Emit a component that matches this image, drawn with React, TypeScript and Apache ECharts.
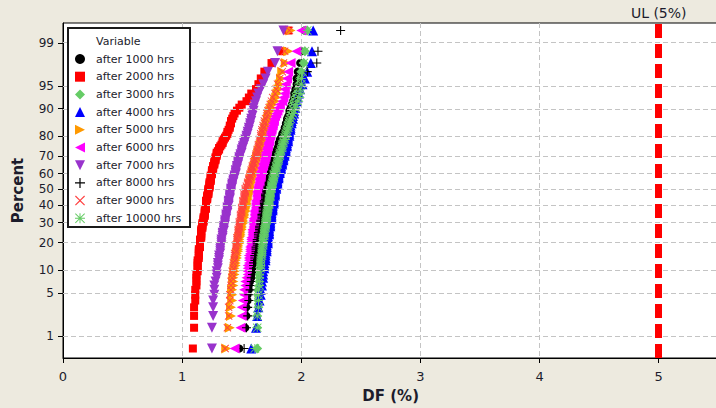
import { useEffect, useRef } from 'react';
import * as echarts from 'echarts';

// ---------- data (sorted DF values, 120 per series) ----------
const seriesNames = [
  'after 1000 hrs', 'after 2000 hrs', 'after 3000 hrs', 'after 4000 hrs', 'after 5000 hrs',
  'after 6000 hrs', 'after 7000 hrs', 'after 8000 hrs', 'after 9000 hrs', 'after 10000 hrs',
];

const after1000 = [
  1.48,1.53,1.54,1.54,1.55,1.55,1.56,1.56,1.57,1.58,
  1.58,1.59,1.59,1.59,1.60,1.60,1.60,1.60,1.61,1.61,
  1.61,1.62,1.62,1.62,1.62,1.63,1.63,1.63,1.63,1.64,
  1.64,1.64,1.64,1.65,1.65,1.65,1.65,1.66,1.66,1.66,
  1.66,1.66,1.67,1.67,1.67,1.67,1.68,1.68,1.68,1.68,
  1.68,1.69,1.69,1.69,1.69,1.69,1.70,1.70,1.70,1.70,
  1.70,1.71,1.71,1.71,1.72,1.72,1.72,1.73,1.73,1.73,
  1.73,1.74,1.74,1.74,1.74,1.75,1.75,1.75,1.76,1.76,
  1.76,1.77,1.77,1.78,1.78,1.79,1.79,1.79,1.80,1.80,
  1.81,1.81,1.81,1.82,1.82,1.83,1.84,1.84,1.85,1.86,
  1.86,1.87,1.87,1.88,1.88,1.89,1.90,1.90,1.91,1.92,
  1.93,1.94,1.94,1.95,1.96,1.96,1.97,1.99,2.00,2.03,
];
const after2000 = [
  1.09,1.10,1.10,1.10,1.11,1.11,1.11,1.12,1.12,1.12,
  1.12,1.13,1.13,1.13,1.13,1.13,1.14,1.14,1.14,1.14,
  1.14,1.15,1.15,1.15,1.15,1.15,1.16,1.16,1.16,1.16,
  1.16,1.16,1.17,1.17,1.17,1.17,1.18,1.18,1.18,1.18,
  1.19,1.19,1.19,1.19,1.19,1.20,1.20,1.20,1.20,1.20,
  1.20,1.20,1.21,1.21,1.21,1.21,1.22,1.22,1.22,1.22,
  1.22,1.23,1.23,1.23,1.23,1.23,1.24,1.24,1.24,1.24,
  1.24,1.25,1.25,1.25,1.25,1.26,1.26,1.26,1.27,1.27,
  1.27,1.28,1.28,1.28,1.29,1.29,1.29,1.30,1.31,1.31,
  1.32,1.33,1.34,1.34,1.35,1.36,1.37,1.38,1.38,1.39,
  1.40,1.40,1.41,1.41,1.42,1.43,1.44,1.46,1.48,1.50,
  1.54,1.56,1.58,1.62,1.64,1.66,1.69,1.75,1.84,1.89,
];
const after3000 = [
  1.63,1.63,1.63,1.64,1.64,1.64,1.64,1.65,1.65,1.65,
  1.65,1.66,1.66,1.66,1.66,1.66,1.67,1.67,1.67,1.67,
  1.67,1.68,1.68,1.68,1.68,1.68,1.68,1.69,1.69,1.69,
  1.69,1.69,1.70,1.70,1.70,1.70,1.70,1.71,1.71,1.71,
  1.71,1.71,1.72,1.72,1.72,1.72,1.72,1.73,1.73,1.73,
  1.73,1.73,1.73,1.74,1.74,1.74,1.74,1.74,1.75,1.75,
  1.75,1.75,1.76,1.76,1.76,1.76,1.77,1.77,1.77,1.77,
  1.78,1.78,1.78,1.79,1.79,1.79,1.80,1.80,1.80,1.81,
  1.81,1.81,1.82,1.82,1.82,1.83,1.83,1.83,1.84,1.84,
  1.84,1.85,1.85,1.85,1.86,1.86,1.87,1.87,1.87,1.88,
  1.88,1.89,1.89,1.90,1.90,1.91,1.91,1.92,1.93,1.93,
  1.94,1.95,1.96,1.97,1.98,1.99,2.00,2.02,2.03,2.05,
];
const after4000 = [
  1.58,1.62,1.63,1.64,1.65,1.66,1.66,1.67,1.67,1.68,
  1.68,1.68,1.69,1.69,1.69,1.70,1.70,1.70,1.70,1.71,
  1.71,1.71,1.71,1.72,1.72,1.72,1.72,1.72,1.73,1.73,
  1.73,1.73,1.73,1.74,1.74,1.74,1.74,1.74,1.75,1.75,
  1.75,1.75,1.75,1.75,1.76,1.76,1.76,1.76,1.76,1.77,
  1.77,1.77,1.77,1.77,1.77,1.78,1.78,1.78,1.78,1.78,
  1.79,1.79,1.79,1.79,1.80,1.80,1.80,1.80,1.81,1.81,
  1.81,1.81,1.82,1.82,1.82,1.83,1.83,1.83,1.84,1.84,
  1.84,1.85,1.85,1.85,1.86,1.86,1.86,1.87,1.87,1.87,
  1.88,1.88,1.88,1.89,1.89,1.89,1.90,1.90,1.90,1.91,
  1.91,1.91,1.92,1.92,1.93,1.93,1.94,1.94,1.95,1.95,
  1.96,1.97,1.98,1.99,2.01,2.03,2.05,2.08,2.09,2.10,
];
const after5000 = [
  1.37,1.40,1.41,1.41,1.42,1.42,1.42,1.43,1.43,1.43,
  1.44,1.44,1.44,1.45,1.45,1.45,1.46,1.46,1.46,1.47,
  1.47,1.47,1.47,1.48,1.48,1.48,1.48,1.49,1.49,1.49,
  1.49,1.50,1.50,1.50,1.50,1.51,1.51,1.51,1.51,1.52,
  1.52,1.52,1.52,1.53,1.53,1.53,1.53,1.54,1.54,1.54,
  1.54,1.54,1.55,1.55,1.55,1.55,1.56,1.56,1.56,1.56,
  1.56,1.57,1.57,1.57,1.57,1.58,1.58,1.58,1.58,1.59,
  1.59,1.59,1.60,1.60,1.60,1.61,1.61,1.61,1.62,1.62,
  1.62,1.62,1.63,1.63,1.64,1.64,1.64,1.65,1.65,1.66,
  1.66,1.66,1.67,1.67,1.68,1.68,1.69,1.69,1.69,1.70,
  1.70,1.71,1.71,1.72,1.72,1.73,1.73,1.74,1.75,1.76,
  1.78,1.79,1.80,1.81,1.82,1.83,1.84,1.87,1.89,1.91,
];
const after6000 = [
  1.44,1.49,1.50,1.50,1.51,1.52,1.52,1.53,1.53,1.54,
  1.55,1.55,1.55,1.55,1.56,1.56,1.56,1.56,1.57,1.57,
  1.57,1.57,1.58,1.58,1.58,1.58,1.58,1.59,1.59,1.59,
  1.59,1.59,1.60,1.60,1.60,1.60,1.60,1.60,1.60,1.61,
  1.61,1.61,1.61,1.61,1.61,1.62,1.62,1.62,1.62,1.62,
  1.62,1.62,1.63,1.63,1.63,1.63,1.63,1.63,1.63,1.64,
  1.64,1.64,1.64,1.64,1.65,1.65,1.65,1.65,1.65,1.66,
  1.66,1.66,1.66,1.66,1.67,1.67,1.67,1.68,1.68,1.68,
  1.69,1.69,1.69,1.70,1.70,1.70,1.70,1.71,1.71,1.71,
  1.72,1.72,1.72,1.73,1.73,1.73,1.74,1.74,1.74,1.75,
  1.75,1.76,1.76,1.77,1.77,1.78,1.79,1.80,1.81,1.82,
  1.84,1.85,1.86,1.86,1.87,1.88,1.89,1.91,1.96,2.00,
];
const after7000 = [
  1.25,1.25,1.26,1.26,1.26,1.27,1.27,1.27,1.28,1.29,
  1.29,1.29,1.30,1.30,1.30,1.31,1.31,1.31,1.32,1.32,
  1.32,1.32,1.33,1.33,1.33,1.33,1.34,1.34,1.34,1.34,
  1.35,1.35,1.35,1.35,1.36,1.36,1.36,1.36,1.37,1.37,
  1.37,1.37,1.38,1.38,1.38,1.38,1.38,1.39,1.39,1.39,
  1.39,1.39,1.40,1.40,1.40,1.40,1.40,1.41,1.41,1.41,
  1.41,1.42,1.42,1.42,1.42,1.43,1.43,1.43,1.44,1.44,
  1.44,1.45,1.45,1.45,1.45,1.46,1.46,1.46,1.47,1.47,
  1.47,1.48,1.48,1.48,1.49,1.49,1.50,1.50,1.50,1.51,
  1.51,1.52,1.52,1.53,1.53,1.54,1.54,1.55,1.55,1.56,
  1.56,1.57,1.57,1.58,1.58,1.59,1.59,1.60,1.60,1.61,
  1.62,1.63,1.64,1.66,1.68,1.70,1.72,1.78,1.80,1.85,
];
const after8000 = [
  1.52,1.54,1.55,1.55,1.56,1.56,1.57,1.57,1.58,1.58,
  1.59,1.59,1.60,1.60,1.60,1.61,1.61,1.61,1.62,1.62,
  1.62,1.62,1.63,1.63,1.63,1.63,1.64,1.64,1.64,1.64,
  1.65,1.65,1.65,1.65,1.66,1.66,1.66,1.66,1.67,1.67,
  1.67,1.67,1.68,1.68,1.68,1.68,1.68,1.69,1.69,1.69,
  1.69,1.69,1.70,1.70,1.70,1.70,1.70,1.71,1.71,1.71,
  1.72,1.72,1.72,1.73,1.73,1.73,1.74,1.74,1.74,1.75,
  1.75,1.75,1.75,1.76,1.76,1.76,1.77,1.77,1.77,1.78,
  1.78,1.78,1.79,1.79,1.80,1.80,1.81,1.81,1.82,1.82,
  1.82,1.83,1.83,1.84,1.84,1.85,1.85,1.86,1.87,1.87,
  1.88,1.88,1.89,1.89,1.90,1.91,1.91,1.92,1.93,1.94,
  1.95,1.96,1.97,1.97,1.98,1.99,2.05,2.13,2.14,2.33,
];
const after9000 = [
  1.36,1.38,1.39,1.39,1.40,1.40,1.41,1.41,1.41,1.42,
  1.42,1.42,1.43,1.43,1.43,1.44,1.44,1.44,1.44,1.45,
  1.45,1.45,1.45,1.46,1.46,1.46,1.46,1.47,1.47,1.47,
  1.47,1.47,1.48,1.48,1.48,1.48,1.48,1.49,1.49,1.49,
  1.49,1.49,1.50,1.50,1.50,1.50,1.50,1.51,1.51,1.51,
  1.51,1.51,1.52,1.52,1.52,1.52,1.52,1.53,1.53,1.53,
  1.53,1.54,1.54,1.55,1.55,1.55,1.56,1.56,1.56,1.57,
  1.57,1.57,1.58,1.58,1.58,1.59,1.59,1.59,1.60,1.60,
  1.60,1.61,1.61,1.62,1.62,1.62,1.63,1.63,1.63,1.64,
  1.64,1.64,1.65,1.65,1.65,1.66,1.66,1.66,1.67,1.67,
  1.68,1.68,1.69,1.69,1.70,1.71,1.71,1.72,1.73,1.74,
  1.75,1.76,1.78,1.79,1.80,1.82,1.84,1.85,1.86,1.90,
];
const after10000 = [
  1.61,1.63,1.63,1.64,1.64,1.64,1.64,1.65,1.65,1.65,
  1.65,1.65,1.66,1.66,1.66,1.66,1.66,1.67,1.67,1.67,
  1.67,1.67,1.68,1.68,1.68,1.68,1.68,1.69,1.69,1.69,
  1.69,1.69,1.70,1.70,1.70,1.70,1.70,1.71,1.71,1.71,
  1.71,1.71,1.71,1.72,1.72,1.72,1.72,1.72,1.73,1.73,
  1.73,1.73,1.73,1.73,1.74,1.74,1.74,1.74,1.74,1.74,
  1.75,1.75,1.75,1.75,1.76,1.76,1.76,1.76,1.77,1.77,
  1.77,1.77,1.78,1.78,1.78,1.79,1.79,1.79,1.80,1.80,
  1.80,1.81,1.81,1.81,1.82,1.82,1.82,1.83,1.83,1.84,
  1.84,1.84,1.85,1.85,1.86,1.86,1.87,1.87,1.88,1.88,
  1.89,1.89,1.90,1.90,1.91,1.92,1.93,1.94,1.95,1.95,
  1.97,1.98,1.99,1.99,2.00,2.00,2.01,2.02,2.03,2.05,
];

const seriesValues = [
  after1000, after2000, after3000, after4000, after5000,
  after6000, after7000, after8000, after9000, after10000,
];

const percentTicks = [1, 5, 10, 20, 30, 40, 50, 60, 70, 80, 90, 95, 99];
const xTickValues = [0, 1, 2, 3, 4, 5];
const upperLimit = 5;
const upperLimitLabel = 'UL (5%)';

// ---------- styles ----------
const FONT = '"DejaVu Sans", "Noto Sans", sans-serif';
const TEXT = '#1c1c2c';
const PLUS = 'path://M4.4,0H5.6V4.4H10V5.6H5.6V10H4.4V5.6H0V4.4H4.4Z';
const CROSS = 'path://M0.8,0L5,4.2L9.2,0L10,0.8L5.8,5L10,9.2L9.2,10L5,5.8L0.8,10L0,9.2L4.2,5L0,0.8Z';
const ASTER = 'path://M4.5,0H5.5V10H4.5Z M0,4.5H10V5.5H0Z M0.7,0L10,9.3L9.3,10L0,0.7Z M9.3,0L10,0.7L0.7,10L0,9.3Z';
const TRI_UP = 'path://M5,0L10,10L0,10Z';
const TRI_RIGHT = 'path://M0,0L10,5L0,10Z';
const TRI_LEFT = 'path://M10,0L10,10L0,5Z';
const TRI_DOWN = 'path://M0,0L10,0L5,10Z';

const markerStyles = [
  { symbol: 'circle', size: 8, color: '#000000' },
  { symbol: 'rect', size: 8, color: '#FF0000' },
  { symbol: 'diamond', size: 10, color: '#66CC66' },
  { symbol: TRI_UP, size: 10, color: '#0000FF' },
  { symbol: TRI_RIGHT, size: 10, color: '#FF9900' },
  { symbol: TRI_LEFT, size: 10, color: '#FF00FF' },
  { symbol: TRI_DOWN, size: 10, color: '#9933CC' },
  { symbol: PLUS, size: 9, color: '#000000' },
  { symbol: CROSS, size: 8, color: '#FF4040' },
  { symbol: ASTER, size: 9, color: '#66CC66' },
];

// inverse standard normal CDF (Acklam)
function invNorm(p: number): number {
  const a = [-3.969683028665376e1, 2.209460984245205e2, -2.759285104469687e2, 1.38357751867269e2, -3.066479806614716e1, 2.506628277459239];
  const b = [-5.447609879822406e1, 1.615858368580409e2, -1.556989798598866e2, 6.680131188771972e1, -1.328068155288572e1];
  const c = [-7.784894002430293e-3, -3.223964580411365e-1, -2.400758277161838, -2.549732539343734, 4.374664141464968, 2.938163982698783];
  const d = [7.784695709041462e-3, 3.224671290700398e-1, 2.445134137142996, 3.754408661907416];
  const plow = 0.02425;
  if (p < plow) {
    const q = Math.sqrt(-2 * Math.log(p));
    return (((((c[0] * q + c[1]) * q + c[2]) * q + c[3]) * q + c[4]) * q + c[5]) / ((((d[0] * q + d[1]) * q + d[2]) * q + d[3]) * q + 1);
  }
  if (p <= 1 - plow) {
    const q = p - 0.5;
    const r = q * q;
    return ((((((a[0] * r + a[1]) * r + a[2]) * r + a[3]) * r + a[4]) * r + a[5]) * q) / (((((b[0] * r + b[1]) * r + b[2]) * r + b[3]) * r + b[4]) * r + 1);
  }
  const q = Math.sqrt(-2 * Math.log(1 - p));
  return -(((((c[0] * q + c[1]) * q + c[2]) * q + c[3]) * q + c[4]) * q + c[5]) / ((((d[0] * q + d[1]) * q + d[2]) * q + d[3]) * q + 1);
}

// Benard median-rank plotting positions on a normal probability scale
function toPoints(values: number[]): [number, number][] {
  const sorted = [...values].sort((x, y) => x - y);
  const n = sorted.length;
  return sorted.map((v, i) => [v, invNorm((i + 1 - 0.3) / (n + 0.4))]);
}

const zTicks = percentTicks.map((p) => invNorm(p / 100));
const zLabel = (z: number) => {
  let best = 0;
  let bd = Infinity;
  zTicks.forEach((t, i) => {
    const dd = Math.abs(t - z);
    if (dd < bd) { bd = dd; best = i; }
  });
  return String(percentTicks[best]);
};

export default function App() {
  const ref = useRef<HTMLDivElement>(null);
  useEffect(() => {
    if (!ref.current) return;
    const chart = echarts.init(ref.current, undefined, { renderer: 'svg' });
    const scatter = seriesNames.map((name, k) => ({
      type: 'scatter',
      name,
      data: toPoints(seriesValues[k]),
      symbol: markerStyles[k].symbol,
      symbolSize: markerStyles[k].size,
      itemStyle: { color: markerStyles[k].color, opacity: 1 },
      z: 2,
      silent: true,
    }));
    chart.setOption({
      animation: false,
      backgroundColor: '#EDEADF',
      textStyle: { fontFamily: FONT },
      grid: {
        left: 63, top: 23, right: 1.7, bottom: 49,
        show: true, backgroundColor: '#ffffff', borderColor: '#000000', borderWidth: 1,
      },
      legend: {
        data: seriesNames,
        orient: 'vertical',
        left: 70,
        top: 48,
        itemWidth: 10,
        itemHeight: 10,
        itemGap: 5.7,
        z: 120,
        selectedMode: false,
        textStyle: { fontFamily: FONT, fontSize: 11, color: TEXT, lineHeight: 12, padding: [0, 0, 0, 6] },
      },
      xAxis: {
        type: 'value',
        min: 0,
        max: 5.5,
        interval: 0.5,
        name: 'DF (%)',
        nameLocation: 'middle',
        nameGap: 30,
        nameTextStyle: { fontFamily: FONT, fontWeight: 'bold', fontSize: 15, color: TEXT },
        axisLine: { show: true, onZero: false, lineStyle: { color: '#000', width: 1 } },
        axisTick: { show: true, customValues: xTickValues, length: 5, lineStyle: { color: '#000' } },
        axisLabel: { customValues: xTickValues, fontFamily: FONT, fontSize: 13, color: TEXT, margin: 12 },
        splitLine: { show: true, showMinLine: false, showMaxLine: false, lineStyle: { color: '#c4c4c4', type: [5, 3], width: 1 } },
      },
      yAxis: {
        type: 'value',
        min: -2.674,
        max: 2.642,
        name: 'Percent',
        nameLocation: 'middle',
        nameGap: 38,
        nameTextStyle: { fontFamily: FONT, fontWeight: 'bold', fontSize: 15, color: TEXT },
        axisLine: { show: true, onZero: false, lineStyle: { color: '#000', width: 1 } },
        axisTick: { show: true, customValues: zTicks, length: 5, lineStyle: { color: '#000' } },
        axisLabel: { customValues: zTicks, formatter: (v: number) => zLabel(v), fontFamily: FONT, fontSize: 12, color: TEXT, margin: 9 },
        splitLine: { show: false },
      },
      graphic: [
        {
          type: 'rect', z: 100,
          shape: { x: 68, y: 28, width: 122, height: 199 },
          style: { fill: '#ffffff', stroke: '#1a1a1a', lineWidth: 2 },
        },
        {
          type: 'text', z: 110,
          style: { text: 'Variable', x: 96, y: 41, fontFamily: FONT, fontSize: 11, fill: TEXT, verticalAlign: 'middle' },
        },
      ],
      series: [
        {
          type: 'scatter', name: '_grid', data: [], silent: true, z: 1,
          markLine: {
            silent: true, symbol: ['none', 'none'], label: { show: false },
            lineStyle: { color: '#c4c4c4', type: [5, 3], width: 1 },
            data: zTicks.map((z) => ({ yAxis: z })),
          },
        },
        ...scatter,
        {
          type: 'scatter', name: '_ul', data: [], silent: true, z: 3,
          markLine: {
            silent: true, symbol: ['none', 'none'],
            lineStyle: { color: '#FF0000', type: [14, 6], width: 7, cap: 'butt' },
            label: { show: true, position: 'end', formatter: upperLimitLabel, color: TEXT, fontFamily: FONT, fontSize: 14, distance: 3 },
            data: [{ xAxis: upperLimit }],
          },
        },
      ],
    });
    return () => chart.dispose();
  }, []);
  return (
    <div style={{ position: 'absolute', left: 0, top: 0, width: 716, height: 408, overflow: 'hidden', background: '#EDEADF' }}>
      <div ref={ref} style={{ width: 720, height: 408 }} />
    </div>
  );
}
